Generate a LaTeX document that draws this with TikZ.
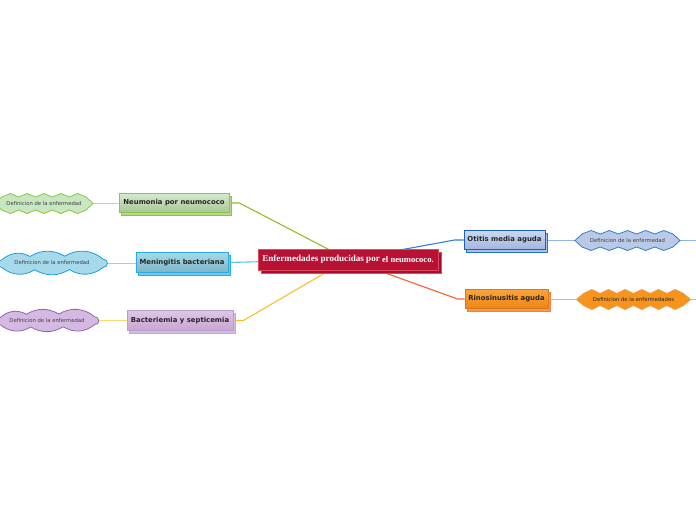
\documentclass[tikz,border=0pt]{standalone}
\usepackage{fontspec}
\newfontfamily\titlefont{Liberation Serif}
\newfontfamily\labelfont{DejaVu Sans}
\usetikzlibrary{shadows,backgrounds}

\definecolor{cred}{HTML}{B71234}
\definecolor{credd}{HTML}{E0485F}
\definecolor{credsh}{HTML}{A80F2C}
% green
\definecolor{gT}{HTML}{D5EACB}\definecolor{gB}{HTML}{A8C69A}\definecolor{gD}{HTML}{8CC63F}\definecolor{gS}{HTML}{B5D98E}
\definecolor{gLf}{HTML}{C7E6C1}\definecolor{gLd}{HTML}{8DC63F}\definecolor{gC}{HTML}{93C01F}\definecolor{gL}{HTML}{B9DC8A}
% light blue
\definecolor{bT}{HTML}{A4DBEB}\definecolor{bB}{HTML}{7DB5C6}\definecolor{bD}{HTML}{29ABE2}\definecolor{bS}{HTML}{6CCBEF}
\definecolor{bLf}{HTML}{A6D9EA}\definecolor{bLd}{HTML}{1E9FD8}\definecolor{bC}{HTML}{5BC0EB}\definecolor{bL}{HTML}{8FD3EE}
% purple
\definecolor{pT}{HTML}{DFC6E6}\definecolor{pB}{HTML}{C8A5D3}\definecolor{pD}{HTML}{B89DD0}\definecolor{pS}{HTML}{D3BDE0}\definecolor{pSd}{HTML}{C3A8D8}
\definecolor{pLf}{HTML}{D6B9E2}\definecolor{pLd}{HTML}{8A6BB0}\definecolor{yC}{HTML}{F9C02A}\definecolor{yL}{HTML}{FDD86A}
% blue
\definecolor{oT}{HTML}{CAD8F0}\definecolor{oB}{HTML}{A3B6DF}\definecolor{oD}{HTML}{1F5FBF}\definecolor{oS}{HTML}{A9C0EA}\definecolor{oSd}{HTML}{2B6FD0}
\definecolor{oLf}{HTML}{B9C9E6}\definecolor{oLd}{HTML}{2F7FD0}\definecolor{oC}{HTML}{3A7BDC}\definecolor{oL}{HTML}{8FB3EA}
% orange
\definecolor{rT}{HTML}{F9A33A}\definecolor{rB}{HTML}{EC8612}\definecolor{rD}{HTML}{E0761C}\definecolor{rS}{HTML}{F59A48}\definecolor{rSd}{HTML}{F08040}
\definecolor{rLf}{HTML}{F7941D}\definecolor{rLd}{HTML}{F39A3A}\definecolor{rC}{HTML}{F26330}\definecolor{rL}{HTML}{F8A78A}

% burst: #1 cx, #2 cy, #3 half width, #4 spike half height, #5 body half height, #6 spikes per side, #7 style
\newcommand\burstshape[7]{%
  \draw[#7] ({#1-#3},{#2}) -- ({#1-#3+7},{#2-#5})
    \foreach \j [evaluate=\j as \xs using {#1-#3+7+(\j-0.5)*(2*#3-14)/#6},
                 evaluate=\j as \xv using {#1-#3+7+\j*(2*#3-14)/#6}] in {1,...,#6}
      { -- (\xs,{#2-#4}) -- (\xv,{#2-#5}) }
    -- ({#1+#3},{#2}) -- ({#1+#3-7},{#2+#5})
    \foreach \j [evaluate=\j as \xs using {#1+#3-7-(\j-0.5)*(2*#3-14)/#6},
                 evaluate=\j as \xv using {#1+#3-7-\j*(2*#3-14)/#6}] in {1,...,#6}
      { -- (\xs,{#2+#4}) -- (\xv,{#2+#5}) }
    -- cycle;}

% cloud: #1 cx, #2 cy, #3 half width, #4 half height, #5 style
\newcommand\cloudshape[5]{%
  \begin{scope}[shift={(#1,#2)}, y=1pt]
    \draw[#5] (-0.86*#3, 0.3*#4)
      to[bend left=35] (-0.38*#3, 0.6*#4)
      to[bend left=30] (0.22*#3, 0.62*#4)
      to[bend left=35] (0.88*#3, 0.36*#4)
      to[bend left=90, looseness=1.8] (0.88*#3, -0.4*#4)
      to[bend left=35] (0.3*#3, -0.6*#4)
      to[bend left=30] (-0.3*#3, -0.62*#4)
      to[bend left=35] (-0.86*#3, -0.42*#4)
      to[bend left=90, looseness=1.8] cycle;
  \end{scope}}

\tikzset{
  central/.style={rectangle, inner sep=0pt, minimum width=180pt, minimum height=21pt,
    fill=cred, draw=credd, line width=0.8pt, text=white,
    general shadow={shadow xshift=3pt, shadow yshift=-3pt, fill=credsh, draw=credd, line width=0.8pt}},
  topic/.style={rectangle, inner sep=0pt, minimum height=19pt, line width=0.8pt,
    text=black!85, font=\labelfont\bfseries\fontsize{6.9}{8}\selectfont},
  tstyle/.style n args={5}{top color=#1, bottom color=#2, draw=#3,
    general shadow={shadow xshift=2.5pt, shadow yshift=-2.5pt, fill=#4, draw=#5, line width=0.8pt}},
  leaftext/.style={inner sep=0pt, text=black!75, font=\labelfont\fontsize{5.3}{6}\selectfont},
  conn/.style={line width=1.1pt},
  leafline/.style={line width=0.6pt},
}

\begin{document}
\begin{tikzpicture}[x=1pt,y=-1pt]
\useasboundingbox (0,0) rectangle (696,520);

% central topic
\node[central] (c) at (348,259.5)
  {\titlefont\bfseries\fontsize{9.1}{10}\selectfont Enfermedades producidas por \raisebox{-1pt}{\fontsize{8.6}{10}\selectfont el neumococo.}};

% main topics
\node[topic, minimum width=110pt, tstyle={gT}{gB}{gD}{gS}{gD}]
  (n1) at (174,203) {Neumonia por neumococo};
\node[topic, minimum width=92pt, minimum height=20pt, tstyle={bT}{bB}{bD}{bS}{bD}]
  (n2) at (182,262.5) {Meningitis bacteriana};
\node[topic, minimum width=106pt, minimum height=20pt, tstyle={pT}{pB}{pD}{pS}{pSd}]
  (n3) at (180,320.5) {Bacteriemia y septicemia};
\node[topic, minimum width=81pt, tstyle={oT}{oB}{oD}{oS}{oSd}]
  (n4) at (504.5,240) {Otitis media aguda};
\node[topic, minimum width=83pt, tstyle={rT}{rB}{rD}{rS}{rSd}]
  (n5) at (506.5,299) {Rinosinusitis aguda};

% leaves
\burstshape{44}{203.5}{49}{10}{6.5}{5}{fill=gLf, draw=gLd, line width=0.8pt}
\node[leaftext] (l1) at (44,203.5) {Definicion de la enfermedad};

\cloudshape{52}{263}{58}{11}{fill=bLf, draw=bLd, line width=0.8pt}
\node[leaftext] (l2) at (52,263) {Definicion de la enfermedad};

\cloudshape{47}{320.5}{54}{10.5}{fill=pLf, draw=pLd, line width=0.8pt}
\node[leaftext] (l3) at (47,320.5) {Definicion de la enfermedad};

\burstshape{627.5}{240.5}{52.5}{10}{6.5}{5}{fill=oLf, draw=oLd, line width=0.8pt}
\node[leaftext] (l4) at (627.5,240.5) {Definicion de la enfermedad};

\burstshape{633.5}{299.5}{57}{10}{6}{6}{fill=rLf, draw=rLd, line width=0.8pt}
\node[leaftext, text=black!85] (l5) at (633.5,299.5) {Definicion de la enfermedades};

\coordinate (e4) at (696,240.5);
\coordinate (e5) at (696,299.5);

% connectors
\begin{scope}[on background layer]
  \fill[white] (0,0) rectangle (696,520);
  \draw[conn, gC] (n1.east) -- ++(10,0) -- (c.center);
  \draw[conn, bC] (n2.east) -- (c.center);
  \draw[conn, yC] (n3.east) -- ++(10,0) -- (c.center);
  \draw[conn, oC] (n4.west) -- ++(-9,0) -- (c.center);
  \draw[conn, rC] (n5.west) -- ++(-7,0) -- (c.center);

  \draw[leafline, gL] (l1) -- (l1 -| n1.west);
  \draw[leafline, bL] (l2) -- (l2 -| n2.west);
  \draw[leafline, yL] (l3) -- (l3 -| n3.west);
  \draw[leafline, oL] (l4 -| n4.east) -- (l4) -- (e4);
  \draw[leafline, rL] (l5 -| n5.east) -- (l5) -- (e5);
\end{scope}
\end{tikzpicture}
\end{document}
